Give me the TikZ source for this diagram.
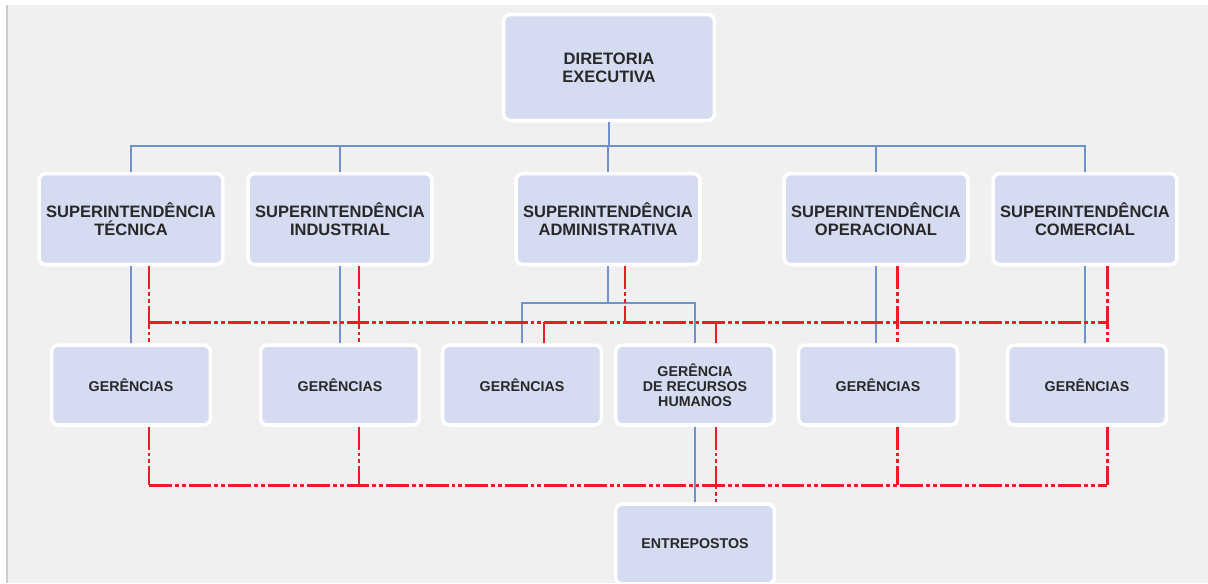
\documentclass[tikz,border=0pt]{standalone}
\usepackage{fontspec}
\setmainfont{Liberation Sans}
\usepackage{xcolor}
\usepackage{tikz}

\definecolor{pagebg}{RGB}{240,240,240}
\definecolor{boxfill}{RGB}{213,219,240}
\definecolor{textcol}{RGB}{40,40,40}
\definecolor{bluelink}{RGB}{112,146,204}
\definecolor{redlink}{RGB}{237,28,36}

\begin{document}
\begin{tikzpicture}[x=0.02cm,y=-0.02cm,
		box/.style={draw=white,line width=2pt,fill=boxfill,rounded corners=4pt,text=textcol,align=center,inner sep=0pt,font=\bfseries\fontsize{9.4}{10.2}\selectfont},
		topbox/.style={box,minimum width=4.22cm,minimum height=2.12cm},
		supbox/.style={box,minimum width=3.68cm,minimum height=1.82cm},
		gerbox/.style={box,minimum width=3.18cm,minimum height=1.6cm,font=\bfseries\fontsize{8.1}{8.6}\selectfont},
		blueline/.style={draw=bluelink,line width=1.4pt},
		redline/.style={draw=redlink,line width=1.7pt,dash pattern=on 13pt off 1.7pt on 2.2pt off 1.7pt on 2.2pt off 1.7pt}]
			\useasboundingbox (0,0) rectangle (1208,583);
			\clip (0,0) rectangle (1208,583);
			\fill[white] (0,0) rectangle (1208,583);
			\fill[pagebg] (7,5) rectangle (1208,583);
			\draw[black!20,line width=1pt] (7,5)--(7,583);
			\node[topbox] (de) at (609,67.5) {DIRETORIA\\EXECUTIVA};
			\node[supbox] (st) at (131,219) {SUPERINTENDÊNCIA\\TÉCNICA};
			\node[supbox] (si) at (340,219) {SUPERINTENDÊNCIA\\INDUSTRIAL};
			\node[supbox] (sa) at (608,219) {SUPERINTENDÊNCIA\\ADMINISTRATIVA};
			\node[supbox] (so) at (876,219) {SUPERINTENDÊNCIA\\OPERACIONAL};
			\node[supbox] (sc) at (1085,219) {SUPERINTENDÊNCIA\\COMERCIAL};
			\node[gerbox] (g1) at (131,385) {GERÊNCIAS};
			\node[gerbox] (g2) at (340,385) {GERÊNCIAS};
			\node[gerbox] (g3) at (522,385) {GERÊNCIAS};
			\node[gerbox] (grh) at (695,385) {GERÊNCIA\\DE RECURSOS\\HUMANOS};
			\node[gerbox] (g5) at (878,385) {GERÊNCIAS};
			\node[gerbox] (g6) at (1087,385) {GERÊNCIAS};
			\node[gerbox] (ent) at (695,544) {ENTREPOSTOS};
			\coordinate (busb) at (0,146);
			\coordinate (busa) at (0,303);
			\coordinate (busr) at (0,322);
			\coordinate (busl) at (0,485);
			\coordinate (rt) at (149,0);
			\coordinate (ri) at (359,0);
			\coordinate (rg) at (544,0);
			\coordinate (ra) at (625,0);
			\coordinate (rh) at (716,0);
			\coordinate (ro) at (897,0);
			\coordinate (rc) at (1107,0);
			\draw[blueline] (de.south) -- (de.south |- busb);
			\draw[blueline] (st.north) -- (st.north |- busb) -- (sc.north |- busb) -- (sc.north);
			\foreach \s in {si,sa,so}
				\draw[blueline] (\s.north) -- (\s.north |- busb);
			\foreach \s/\g in {st/g1,si/g2,so/g5,sc/g6}
				\draw[blueline] (\s.south) -- (\s.south |- \g.north);
			\draw[blueline] (sa.south) -- (sa.south |- busa);
			\draw[blueline] (g3.north) -- (g3.north |- busa) -- (grh.north |- busa) -- (grh.north);
			\draw[blueline] (grh.south) -- (ent.north);
			\foreach \s/\g/\r in {st/g1/rt,si/g2/ri,so/g5/ro,sc/g6/rc}
				\draw[redline] (\s.south -| \r) -- (\g.north -| \r);
			\draw[redline] (sa.south -| ra) -- (busr -| ra);
			\draw[redline] (busr -| rt) -- (busr -| rc);
			\draw[redline] (busr -| rg) -- (g3.north -| rg);
			\draw[redline] (busr -| rh) -- (grh.north -| rh);
			\foreach \g/\r in {g1/rt,g2/ri,g5/ro,g6/rc}
				\draw[redline] (\g.south -| \r) -- (busl -| \r);
			\draw[redline] (grh.south -| rh) -- (ent.north -| rh);
			\draw[redline] (busl -| rt) -- (busl -| rc);
		\end{tikzpicture}
\end{document}
